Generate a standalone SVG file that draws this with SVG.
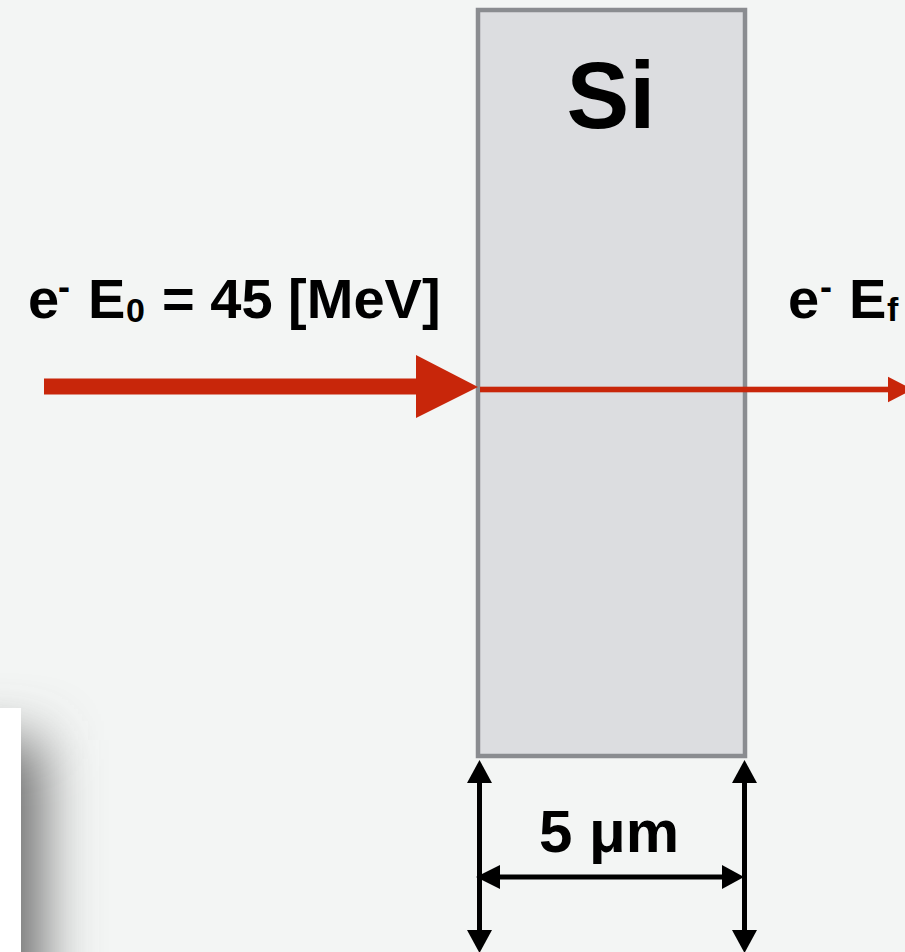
<svg xmlns="http://www.w3.org/2000/svg" width="905" height="952" viewBox="0 0 905 952">
<defs>
<style>
.lbl{font-family:"Liberation Sans",Arial,Helvetica,sans-serif;font-weight:bold;fill:#000}
.red{fill:#c8260a}
.dim{stroke:#000;stroke-width:5;fill:none}
.head{fill:#000}
</style>
<filter id="sh" filterUnits="userSpaceOnUse" x="-200" y="600" width="400" height="500">
<feGaussianBlur stdDeviation="28"/>
</filter>
</defs>
<rect x="0" y="0" width="905" height="952" fill="#f3f5f4"/>
<g id="panel">
<rect x="-100" y="740" width="142" height="400" fill="#6a6a6a" filter="url(#sh)"/>
<rect x="-10" y="708" width="31" height="260" fill="#ffffff"/>
</g>
<g id="si">
<rect x="478" y="10" width="267" height="746" fill="#dcdde0" stroke="#8a8c90" stroke-width="4.5"/>
<text class="lbl" x="611" y="128" text-anchor="middle" font-size="94">Si</text>
</g>
<g id="label-in">
<text class="lbl" font-size="56"><tspan x="28" y="318">e</tspan><tspan x="58" y="299" font-size="36">-</tspan><tspan x="88" y="318">E</tspan><tspan x="126" y="322" font-size="34">0</tspan><tspan x="162" y="318">= 45 [MeV]</tspan></text>
</g>
<g id="label-out">
<text class="lbl" font-size="56"><tspan x="788" y="318">e</tspan><tspan x="820" y="299" font-size="36">-</tspan><tspan x="849" y="318">E</tspan><tspan x="887" y="321" font-size="34">f</tspan></text>
</g>
<g id="connectors">
<rect class="red" x="44" y="378.5" width="374" height="16"/>
<polygon class="red" points="416,355 478,387 416,418"/>
<rect class="red" x="480" y="386.7" width="410" height="5.6"/>
<polygon class="red" points="888,376.7 913,389.5 888,402.3"/>
<line class="dim" x1="479.5" y1="780" x2="479.5" y2="935"/>
<polygon class="head" points="467,783 479.5,760 492,783"/>
<polygon class="head" points="467,930 479.5,953 492,930"/>
<line class="dim" x1="744.5" y1="780" x2="744.5" y2="935"/>
<polygon class="head" points="732,783 744.5,760 757,783"/>
<polygon class="head" points="732,930 744.5,953 757,930"/>
<line class="dim" x1="495" y1="877" x2="727" y2="877"/>
<polygon class="head" points="500,865 476,877 500,889"/>
<polygon class="head" points="722,865 744,877 722,889"/>
</g>
<g id="dim-label">
<text class="lbl" x="609" y="852" text-anchor="middle" font-size="60">5 μm</text>
</g>
</svg>
